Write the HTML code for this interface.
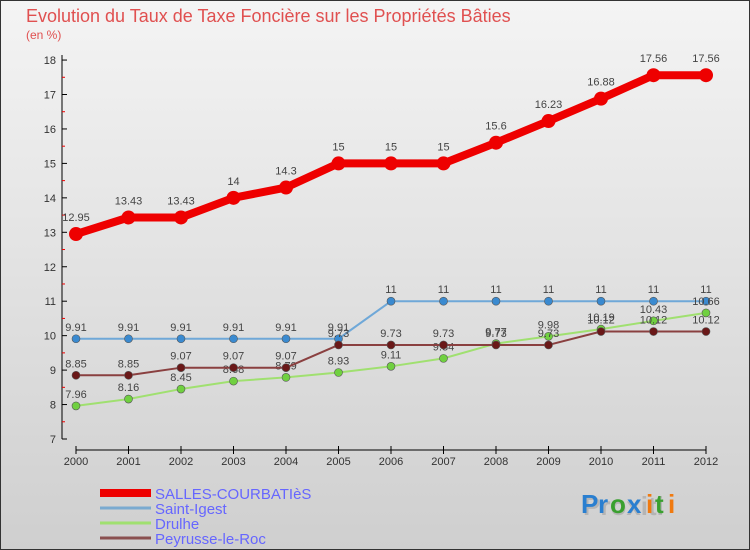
<!DOCTYPE html>
<html><head><meta charset="utf-8"><style>
body{margin:0;width:750px;height:550px;overflow:hidden;font-family:"Liberation Sans",sans-serif}
#wrap{position:absolute;left:0;top:0;width:748px;height:548px;border:1px solid #333;background:linear-gradient(#f4f4f4,#cfcfcf)}
</style></head><body>
<div id="wrap">
<svg id="chart" width="750" height="550" style="position:absolute;left:-1px;top:-1px">
<text x="26" y="22" font-size="18" fill="#e05050">Evolution du Taux de Taxe Foncière sur les Propriétés Bâties</text>
<text x="26" y="39" font-size="12" fill="#e05050">(en %)</text>
<g id="axes"></g><g id="series"></g><g id="legend"></g>
<text x="583" y="515" font-size="26" font-weight="bold" fill="#999" opacity="0.5">Proxiti</text>
<g font-size="26" font-weight="bold">
<text x="581" y="513" fill="#2a7fd0">P</text><text x="598" y="513" fill="#2a7fd0">r</text><text x="610" y="513" fill="#3aa030">o</text><text x="627" y="513" fill="#2a7fd0">x</text><text x="646" y="513" fill="#f07a10">i</text><text x="655" y="513" fill="#3aa030">t</text><text x="668" y="513" fill="#f07a10">i</text></g>
</svg></div>
<script>
const years=[2000,2001,2002,2003,2004,2005,2006,2007,2008,2009,2010,2011,2012];
const salles=[12.95,13.43,13.43,14,14.3,15,15,15,15.6,16.23,16.88,17.56,17.56];
const saintIgest=[9.91,9.91,9.91,9.91,9.91,9.91,11,11,11,11,11,11,11];
const drulhe=[7.96,8.16,8.45,8.68,8.79,8.93,9.11,9.34,9.77,9.98,10.19,10.43,10.66];
const peyrusse=[8.85,8.85,9.07,9.07,9.07,9.73,9.73,9.73,9.73,9.73,10.12,10.12,10.12];
const yTicks=[7,8,9,10,11,12,13,14,15,16,17,18];
const NS="http://www.w3.org/2000/svg";
const x=i=>76+i*52.5, y=v=>439-(v-7)*34.45;
function mk(t,a,p){const e=document.createElementNS(NS,t);for(const k in a)e.setAttribute(k,a[k]);p.appendChild(e);return e;}
const ax=document.getElementById('axes');
const yl=mk('line',{x1:62,y1:55,x2:62,y2:439,stroke:'#000'},ax);


yTicks.forEach(v=>{mk('line',{x1:62,y1:y(v),x2:67,y2:y(v),stroke:'#000'},ax);
 if(v<18)mk('line',{x1:62,y1:y(v+0.5),x2:65,y2:y(v+0.5),stroke:'#e00'},ax);
 const t=mk('text',{x:56,y:y(v)+4,'font-size':11,'text-anchor':'end',fill:'#333'},ax);t.textContent=v;
 
 });
const xl=mk('line',{x1:76,y1:450,x2:706,y2:450,stroke:'#000'},ax);


years.forEach((yr,i)=>{mk('line',{x1:x(i),y1:446,x2:x(i),y2:454,stroke:'#000'},ax);
 const t=mk('text',{x:x(i),y:465,'font-size':11,'text-anchor':'middle',fill:'#333'},ax);t.textContent=yr;
 
 });
const sg=document.getElementById('series');
function series(vals,col,w,r,dot,name){
 const g=mk('g',{},sg);
 
 
 mk('polyline',{points:vals.map((v,i)=>x(i)+','+y(v)).join(' '),fill:'none',stroke:col,'stroke-width':w,'stroke-linejoin':'round'},g);
 vals.forEach((v,i)=>{const c=mk('circle',{cx:x(i),cy:y(v),r:r,fill:dot,stroke:'#555','stroke-width':r>5?0:0.6},g);
  
  
  const t=mk('text',{x:x(i),y:y(v)-(r>5?13:8),'font-size':11,'text-anchor':'middle',fill:'#444'},g);t.textContent=v;
  
  });
}
series(saintIgest,'#6fa8d8',2,4,'#3a8ad0','saint-igest-series');
series(drulhe,'#a0e070',2,4,'#70d040','drulhe-series');
series(peyrusse,'#8a4040',2,4,'#6a1818','peyrusse-series');
series(salles,'#ee0000',8,7,'#ee0000','salles-series');
const lg=document.getElementById('legend');
[['SALLES-COURBATIèS','#ee0000',8],['Saint-Igest','#7aaad0',3],['Drulhe','#a0e070',3],['Peyrusse-le-Roc','#8a5050',3]].forEach((d,i)=>{
 const g=mk('g',{},lg);
 
 
 const yy=493+i*15;
 mk('line',{x1:100,y1:yy,x2:151,y2:yy,stroke:d[1],'stroke-width':d[2]},g);
 const t=mk('text',{x:155,y:yy+6,'font-size':15,fill:'#6666ff'},g);t.textContent=d[0];
});
</script>
</body></html>
